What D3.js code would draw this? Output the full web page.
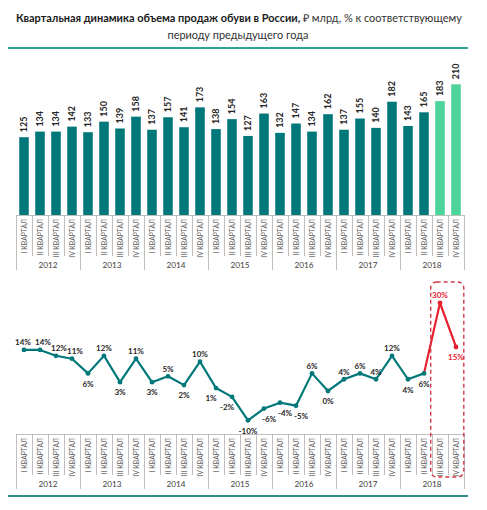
<!DOCTYPE html>
<html><head><meta charset="utf-8">
<script src="https://cdn.jsdelivr.net/npm/d3@7"></script>
<style>body{margin:0;background:#fff}svg{display:block}text{font-family:Lato,"Open Sans",sans-serif}</style>
</head><body>
<svg id="c" width="487" height="510"></svg>
<script>
const years = ["2012","2013","2014","2015","2016","2017","2018"];
const quarters = ["I КВАРТАЛ","II КВАРТАЛ","III КВАРТАЛ","IV КВАРТАЛ"];
const sales = [125,134,134,142, 133,150,139,158, 137,157,141,173, 138,154,127,163, 132,147,134,162, 137,155,140,182, 143,165,183,210];
const growth = [14,14,12,11, 6,12,3,11, 3,5,2,10, 1,-2,-10,-6, -4,-5,6,0, 4,6,4,12, 4,6,30,15];
const growthLabelPlace = ["tl","tr","tr","tr", "b","t","b","t", "b","t","b","t", "bl","bl","b","br", "br","br","t","b", "t","t","t","t", "b","b","t","b"];
const forecastFrom = 26; // index of first highlighted quarter

const svg = d3.select("#c");
const cats = d3.range(sales.length);
const x = d3.scaleBand().domain(cats).range([16,464]).paddingInner(0.4).paddingOuter(0.2);
const cx = i => x(i) + x.bandwidth()/2;

const teal = "#00787A", green = "#4DD49A", red = "#E8202F";

// Title
const t1 = svg.append("text").attr("x",239).attr("y",22).attr("text-anchor","middle").attr("fill","#1a1a1a").style("font-size","12px");
t1.append("tspan").attr("font-weight","bold").text("Квартальная динамика объема продаж обуви в России,");
t1.append("tspan").attr("fill","#333").text(" ₽ млрд, % к соответствующему");
const w1 = t1.node().getComputedTextLength();
const fs = 12*447/w1;
t1.style("font-size", fs+"px");
svg.append("text").attr("x",238).attr("y",39).attr("text-anchor","middle").attr("fill","#333").style("font-size",fs+"px").text("периоду предыдущего года");
svg.append("line").attr("x1",8).attr("x2",468).attr("y1",48).attr("y2",48).attr("stroke","#34A09A").attr("stroke-width",2);
svg.append("line").attr("x1",8).attr("x2",468).attr("y1",496).attr("y2",496).attr("stroke","#2A8F8C").attr("stroke-width",2);

// Category axis drawer
function catAxis(y0){
  const g = svg.append("g");
  g.append("line").attr("x1",16).attr("x2",464).attr("y1",y0+0.5).attr("y2",y0+0.5).attr("stroke","#BFBFBF");
  cats.forEach(i=>{
    const xl = Math.round(x(i) - x.step()*x.paddingInner()/2)+0.5;
    const isYear = i%4===0;
    g.append("line").attr("x1",xl).attr("x2",xl).attr("y1",y0).attr("y2",y0+(isYear?55:41)).attr("stroke","#BFBFBF");
    g.append("text").attr("transform",`translate(${cx(i)+2.5},${y0+4}) rotate(-90)`)
      .attr("text-anchor","end").attr("fill","#595959").style("font-size","6.8px").text(quarters[i%4]);
  });
  g.append("line").attr("x1",464.5).attr("x2",464.5).attr("y1",y0).attr("y2",y0+55).attr("stroke","#BFBFBF");
  years.forEach((yr,k)=>{
    g.append("text").attr("x",(cx(k*4)+cx(k*4+3))/2).attr("y",y0+53).attr("text-anchor","middle")
      .attr("fill","#404040").style("font-size","8.2px").text(yr);
  });
}

// Bar chart
const yb = d3.scaleLinear().domain([0,210]).range([215,84.3]);
svg.append("g").selectAll("rect").data(sales).join("rect")
  .attr("x",(d,i)=>x(i)).attr("width",x.bandwidth())
  .attr("y",d=>yb(d)).attr("height",d=>yb(0)-yb(d))
  .attr("fill",(d,i)=>i>=forecastFrom?green:teal);
svg.append("g").selectAll("text").data(sales).join("text")
  .attr("transform",(d,i)=>`translate(${cx(i)+3},${yb(d)-5}) rotate(-90)`)
  .attr("text-anchor","start").attr("font-weight","bold").attr("fill","#262626").style("font-size","9px").text(d=>d);
catAxis(215);

// Line chart
const yl = d3.scaleLinear().domain([-10,30]).range([420.3,303]);
const line = d3.line().x((d,i)=>cx(i)).y(d=>yl(d));
svg.append("path").datum(growth.slice(0,forecastFrom)).attr("d",line).attr("fill","none").attr("stroke",teal).attr("stroke-width",2.2).attr("stroke-linejoin","round");
const redPts = growth.map((d,i)=>[i,d]).slice(forecastFrom-1);
svg.append("path").datum(redPts).attr("d",d3.line().x(d=>cx(d[0])).y(d=>yl(d[1]))).attr("fill","none").attr("stroke",red).attr("stroke-width",2.2).attr("stroke-linejoin","round");
svg.append("g").selectAll("circle").data(growth).join("circle")
  .attr("cx",(d,i)=>cx(i)).attr("cy",d=>yl(d)).attr("r",2.4)
  .attr("fill",(d,i)=>i>=forecastFrom?red:teal);
const off = {t:[0,-7.5],tl:[-1,-7.5],tr:[3,-7.5],b:[0,10.5],bl:[-5,10.5],br:[5,10.5]};
svg.append("g").selectAll("text").data(growth).join("text")
  .attr("x",(d,i)=>cx(i)+off[growthLabelPlace[i]][0])
  .attr("y",(d,i)=>yl(d)+off[growthLabelPlace[i]][1])
  .attr("dy","0.35em").attr("text-anchor","middle").attr("font-weight","bold")
  .attr("fill",(d,i)=>i>=forecastFrom?red:"#262626").style("font-size","8px").text(d=>d+"%");
catAxis(434);

// highlight box
const bx0 = x(forecastFrom) - 4.5, bx1 = x(sales.length-1)+x.bandwidth()+3;
svg.append("rect").attr("x",bx0).attr("y",282).attr("width",bx1-bx0).attr("height",477-282).attr("rx",6)
  .attr("fill","none").attr("stroke","#D23A48").attr("stroke-width",1.4).attr("stroke-dasharray","4,3");
</script>
</body></html>
